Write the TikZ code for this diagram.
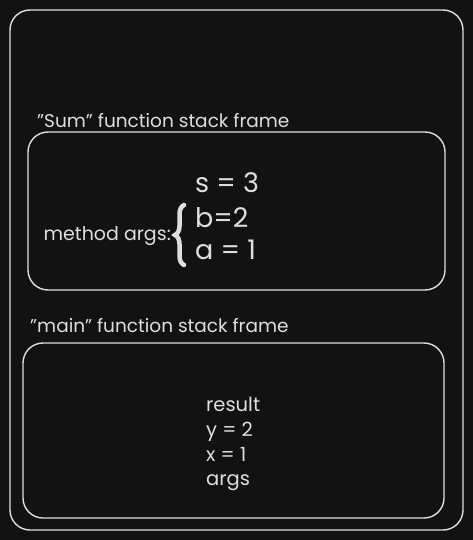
\documentclass[tikz,border=0pt]{standalone}
\usepackage{fontspec}
\setmainfont{Poppins}
\usetikzlibrary{positioning,decorations.pathreplacing}
\definecolor{bg}{HTML}{121212}
\definecolor{ink}{HTML}{DEDEDE}
\newcommand{\dq}{\symbol{34}}

\begin{document}
\begin{tikzpicture}[x=1pt,y=-1pt,
   frame/.style={draw=ink,line width=1.4pt,rounded corners=20pt},
   every node/.style={text=ink,inner sep=0pt},
   title/.style={anchor=base west,font=\fontsize{18.5}{22}\selectfont},
   var/.style={anchor=base west,font=\fontsize{19.5}{23}\selectfont},
   big/.style={anchor=base west,font=\fontsize{27}{32}\selectfont}]

\fill[bg] (0,0) rectangle (473,540);
\useasboundingbox (0,0) rectangle (473,540);

% stack and its two frames
\draw[frame] (10,10) rectangle (463,530);
\draw[frame] (28,132) rectangle (445,290);
\draw[frame] (23,343) rectangle (444,518);

% Sum frame
\node[title] (sumtitle) at (37,128) {\dq Sum\dq{} function stack frame};
\node[big] (s) at (195,193) {s = 3};
\node[big] (b) at (195,227) {b=2};
\node[big] (a) at (195,259) {a = 1};
\node[title,anchor=base east,font=\fontsize{19}{22}\selectfont] (margs) at (171,240) {method args:};
\draw[ink,line width=4.5pt,line cap=round,decorate,decoration={brace,amplitude=9pt}]
   (184,265) -- (184,205);

% main frame
\node[title] (maintitle) at (30,332) {\dq main\dq{} function stack frame};
\node[var] (result) at (206,411) {result};
\node[var] (y) at (206,436) {y = 2};
\node[var] (x) at (206,461) {x = 1};
\node[var] (args) at (206,485) {args};

\end{tikzpicture}
\end{document}
